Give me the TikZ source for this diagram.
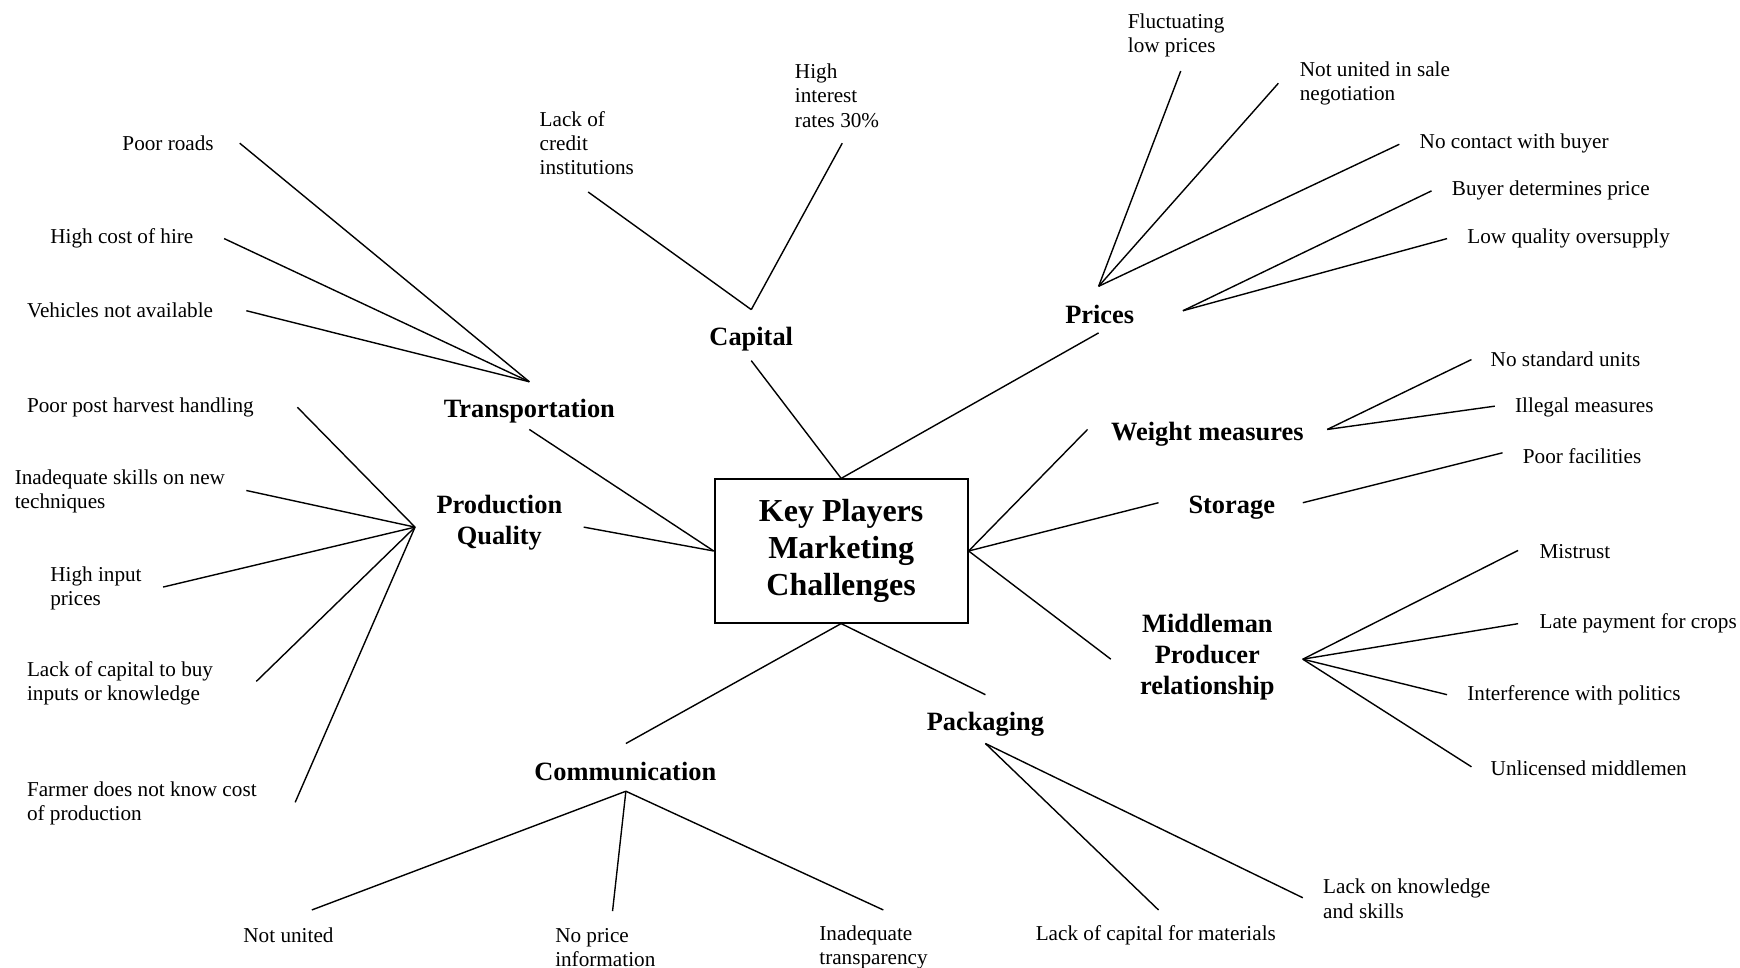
\documentclass[tikz,border=0pt]{standalone}
\usepackage{fontspec}
\setmainfont{Liberation Serif}
\tikzset{
  kbox/.style={draw=black, line width=1pt, minimum width=126.5pt, minimum height=71.6pt,
               inner sep=0pt, align=center, font=\fontsize{16}{18.6}\selectfont\bfseries},
  cat/.style={align=center, inner sep=0pt, yshift=-1.3pt, font=\fontsize{13.2}{15.6}\selectfont\bfseries},
  lf/.style={align=left, anchor=west, inner sep=0pt, yshift=-1.1pt, font=\fontsize{10.6}{12.2}\selectfont},
  br/.style={draw=black, line width=0.7pt},   % branch line
}
\begin{document}
\begin{tikzpicture}[x=0.5549pt,y=-0.5549pt]
  \useasboundingbox (0,0) rectangle (1568,872);
  \node[kbox] (kp) at (758,496.5) {Key Players\\Marketing\\Challenges};
  % main branches
  \node[cat] (cap) at (677,303)   {Capital};
  \node[cat] (pri) at (991,281)   {Prices};
  \node[cat] (tra) at (477,368)   {Transportation};
  \node[cat] (pq)  at (450,468.5) {Production\\Quality};
  \node[cat] (wm)  at (1088,389)  {Weight measures};
  \node[cat] (sto) at (1110,455)  {Storage};
  \node[cat] (mp)  at (1088,590)  {Middleman\\Producer\\relationship};
  \node[cat] (pac) at (888,650)   {Packaging};
  \node[cat] (com) at (563.5,693) {Communication};
  % leaves
  \node[lf] (roads)     at (110,127)  {Poor roads};
  \node[lf] (hire)      at (45,213)   {High cost of hire};
  \node[lf] (vehicles)  at (24,278)   {Vehicles not available};
  \node[lf] (credit)    at (486,127)  {Lack of\\credit\\institutions};
  \node[lf] (interest)  at (716,84)   {High\\interest\\rates 30\%};
  \node[lf] (fluct)     at (1016,30)  {Fluctuating\\low prices};
  \node[lf] (united)    at (1171,73)  {Not united in sale\\negotiation};
  \node[lf] (contact)   at (1279,127) {No contact with buyer};
  \node[lf] (buyer)     at (1308,170) {Buyer determines price};
  \node[lf] (oversup)   at (1322,213) {Low quality oversupply};
  \node[lf] (units)     at (1343,322) {No standard units};
  \node[lf] (illegal)   at (1365,365) {Illegal measures};
  \node[lf] (facil)     at (1372,409) {Poor facilities};
  \node[lf] (mistrust)  at (1387,495) {Mistrust};
  \node[lf] (latepay)   at (1387,560) {Late payment for crops};
  \node[lf] (politics)  at (1322,625) {Interference with politics};
  \node[lf] (unlic)     at (1343,690) {Unlicensed middlemen};
  \node[lf] (knowl)     at (1192,808) {Lack on knowledge\\and skills};
  \node[lf] (capmat)    at (933,841)  {Lack of capital for materials};
  \node[lf] (transp)    at (738,852)  {Inadequate\\transparency};
  \node[lf] (priceinfo) at (500,852)  {No price\\information};
  \node[lf] (notunited) at (219,841)  {Not united};
  \node[lf] (harvest)   at (24,365)   {Poor post harvest handling};
  \node[lf] (skills)    at (13,441)   {Inadequate skills on new\\techniques};
  \node[lf] (input)     at (45,528)   {High input\\prices};
  \node[lf] (capbuy)    at (24,614)   {Lack of capital to buy\\inputs or knowledge};
  \node[lf] (farmer)    at (24,722)   {Farmer does not know cost\\of production};
  % line ends
  \coordinate (capb) at (677,325);  \coordinate (capt) at (677,279);
  \coordinate (prib) at (990,300);  \coordinate (prit) at (990,258);
  \coordinate (prir) at (1066,280);
  \coordinate (trab) at (477,387);  \coordinate (trat) at (477,344);
  \coordinate (pqr)  at (526,475);  \coordinate (pql)  at (374,475);
  \coordinate (wml)  at (980,387);  \coordinate (wmr)  at (1196,387);
  \coordinate (stol) at (1044,453); \coordinate (stor) at (1174,453);
  \coordinate (mpl)  at (1001,594); \coordinate (mpr)  at (1174,594);
  \coordinate (pact) at (888,626);  \coordinate (pacb) at (888,670);
  \coordinate (comt) at (564,670);  \coordinate (comb) at (564,713);
  \coordinate (roadsp) at (216,129);   \coordinate (hirep) at (202,215);
  \coordinate (vehiclesp) at (222,280);
  \coordinate (creditp) at (530,173);  \coordinate (interestp) at (759,129);
  \coordinate (fluctp) at (1064,64);   \coordinate (unitedp) at (1152,75);
  \coordinate (contactp) at (1261,130);\coordinate (buyerp) at (1290,172);
  \coordinate (oversupp) at (1304,215);
  \coordinate (unitsp) at (1326,324);  \coordinate (illegalp) at (1347,366);
  \coordinate (facilp) at (1354,408);
  \coordinate (mistrustp) at (1368,496); \coordinate (latepayp) at (1368,562);
  \coordinate (politicsp) at (1304,626); \coordinate (unlicp) at (1326,691);
  \coordinate (knowlp) at (1174,809);  \coordinate (capmatp) at (1044,820);
  \coordinate (transpp) at (796,820);  \coordinate (priceinfop) at (552,821);
  \coordinate (notunitedp) at (281,820);
  \coordinate (harvestp) at (268,367); \coordinate (skillsp) at (222,442);
  \coordinate (inputp) at (147,529);   \coordinate (capbuyp) at (231,614);
  \coordinate (farmerp) at (266,723);
  % connectors
  \foreach \u/\v in {kp.north/capb,kp.north/prib,kp.west/trab,kp.west/pqr,
                     kp.east/wml,kp.east/stol,kp.east/mpl,kp.south/comt,kp.south/pact,
                     capt/creditp,capt/interestp,
                     prit/fluctp,prit/unitedp,prit/contactp,prir/buyerp,prir/oversupp,
                     trat/roadsp,trat/hirep,trat/vehiclesp,
                     pql/harvestp,pql/skillsp,pql/inputp,pql/capbuyp,pql/farmerp,
                     wmr/unitsp,wmr/illegalp,stor/facilp,
                     mpr/mistrustp,mpr/latepayp,mpr/politicsp,mpr/unlicp,
                     pacb/capmatp,pacb/knowlp,
                     comb/notunitedp,comb/priceinfop,comb/transpp}
    \draw[br] (\u)--(\v);
\end{tikzpicture}
\end{document}
